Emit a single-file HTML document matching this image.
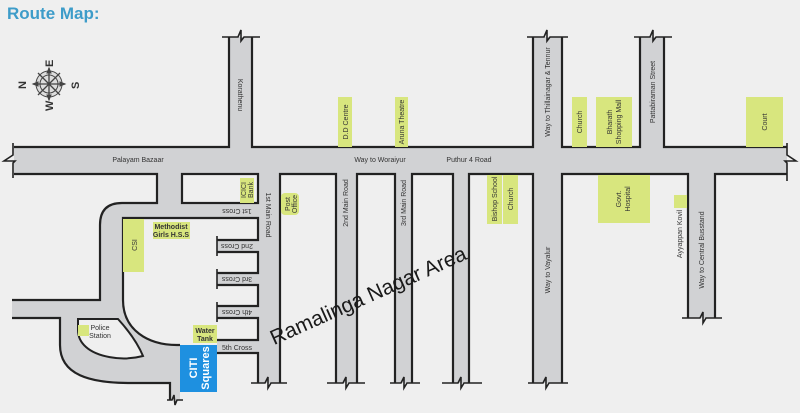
<!DOCTYPE html>
<html><head><meta charset="utf-8"><style>
html,body{margin:0;padding:0;background:#efefef;}
svg{display:block;font-family:"Liberation Sans",sans-serif;}
</style></head><body>
<svg width="800" height="413" viewBox="0 0 800 413" xmlns="http://www.w3.org/2000/svg">
<rect width="800" height="413" fill="#efefef"/>
<text x="7" y="19" font-size="17" font-weight="bold" fill="#3d9cc9">Route Map:</text>

<g transform="translate(49,84)" stroke="#444" fill="none" stroke-width="1">
<circle r="13" fill="#ddd"/><circle r="9"/>
<path d="M0,-16 L0,16 M-16,0 L16,0 M-11,-11 L11,11 M-11,11 L11,-11" stroke-width="1.3"/>
<path d="M0,-16 l-2,5 h4z M0,16 l-2,-5 h4z M-16,0 l5,-2 v4z M16,0 l-5,-2 v4z" fill="#444"/>
</g>
<g font-size="11" font-weight="bold" fill="#333">
<text x="18" y="89" transform="rotate(-90 22 85)">N</text>
<text x="45" y="67" transform="rotate(-90 49 63)">E</text>
<text x="71" y="89" transform="rotate(-90 75 85)">S</text>
<text x="45" y="111" transform="rotate(-90 49 107)">W</text>
</g>

<g fill="#d1d2d4">
<rect x="14" y="147" width="773" height="27"/>
<rect x="229" y="37" width="23" height="110"/>
<rect x="533" y="37" width="29" height="110"/>
<rect x="640" y="37" width="24" height="110"/>
<rect x="258" y="174" width="22" height="209"/>
<rect x="336" y="174" width="21" height="209"/>
<rect x="395" y="174" width="17" height="209"/>
<rect x="453" y="174" width="16" height="209"/>
<rect x="533" y="174" width="29" height="209"/>
<rect x="688" y="174" width="27" height="144"/>
<rect x="217" y="240" width="41" height="12"/>
<rect x="217" y="273" width="41" height="12"/>
<rect x="217" y="306" width="41" height="12"/>
<rect x="217" y="340" width="41" height="13"/>
<path d="M12,300 L100,300 L100,225 Q100,203 122,203 L157,203 L157,174 L182,174 L182,203 L258,203 L258,218 L123,218 L123,300 C123,330 148,345 177,345 L180,345 L180,400 L170,400 L170,383 L130,383 C90,383 60,375 60,345 L60,318 L12,318 Z"/>
</g>
<path d="M78,319 L118,319 C128,330 138,344 143,356 C120,362 96,356 86,347 Q78,340 78,330 Z" fill="#efefef" stroke="#222" stroke-width="2"/>

<g fill="none" stroke="#222" stroke-width="2.2">
<path d="M14,147 L229,147 L229,37 M252,37 L252,147 L533,147 L533,37 M562,37 L562,147 L640,147 L640,37 M664,37 L664,147 L787,147"/>
<path d="M14,174 L157,174 L157,203 L122,203 Q100,203 100,225 L100,300 L12,300"/>
<rect x="182" y="174" width="76" height="29"/>
<path d="M280,383 L280,174 L336,174 L336,383 M357,383 L357,174 L395,174 L395,383 M412,383 L412,174 L453,174 L453,383 M469,383 L469,174 L533,174 L533,383 M562,383 L562,174 L688,174 L688,318 M715,318 L715,174 L787,174"/>
<path d="M217,240 L258,240 L258,218 L123,218 L123,300 C123,330 148,345 177,345 L180,345"/>
<path d="M217,252 L258,252 L258,273 L217,273 M217,285 L258,285 L258,306 L217,306 M217,318 L258,318 L258,340 L217,340 M217,353 L258,353 L258,383"/>
<path d="M12,318 L60,318 L60,345 C60,375 90,383 130,383 L170,383 L170,400"/>
</g>
<g fill="none" stroke="#222" stroke-width="1.6">
<path d="M222,37 L238,37 l3,-7 l0,11 l3,-4 L260,37"/>
<path d="M527,37 L544,37 l3,-7 l0,11 l3,-4 L568,37"/>
<path d="M634,37 L650,37 l3,-7 l0,11 l3,-4 L672,37"/>
<path d="M13,143 L13,155 l-9,6 l11,0 l-2,2 L13,178"/>
<path d="M787,143 L787,155 l9,6 l-11,0 l2,2 L787,181"/>
<path d="M251,383 L265,383 l3,-6 l0,11 l3,-5 L287,383"/>
<path d="M327,383 L343,383 l3,-6 l0,11 l3,-5 L365,383"/>
<path d="M390,383 L401,383 l3,-6 l0,11 l3,-5 L420,383"/>
<path d="M442,383 L458,383 l3,-6 l0,11 l3,-5 L482,383"/>
<path d="M528,383 L543,383 l3,-6 l0,11 l3,-5 L568,383"/>
<path d="M682,318 L700,318 l3,-6 l0,11 l3,-5 L722,318"/>
<path d="M167,400 L172,400 l2,-5 l1,10 l2,-5 L183,400"/>
<path d="M217,236 L217,256 M217,269 L217,289 M217,302 L217,322"/>
</g>

<g fill="#d8e67e">
<rect x="338" y="97" width="14" height="50"/>
<rect x="395" y="97" width="13" height="50"/>
<rect x="572" y="97" width="15" height="50"/>
<rect x="596" y="97" width="36" height="50"/>
<rect x="746" y="97" width="37" height="50"/>
<rect x="240" y="178" width="14" height="25"/>
<rect x="281" y="193" width="18" height="22" rx="4"/>
<rect x="487" y="175" width="15" height="49"/>
<rect x="503" y="175" width="15" height="49"/>
<rect x="598" y="175" width="52" height="48"/>
<rect x="674" y="195" width="13" height="13"/>
<rect x="123" y="219" width="21" height="53"/>
<rect x="153" y="222" width="37" height="17"/>
<rect x="78" y="325" width="11" height="11"/>
<rect x="193" y="325" width="24" height="18"/>
</g>
<rect x="180" y="345" width="37" height="47" fill="#1e90e0"/>

<g font-size="7" fill="#333">
<text x="138" y="162" text-anchor="middle">Palayam Bazaar</text>
<text x="380" y="162" text-anchor="middle">Way to Woraiyur</text>
<text x="469" y="162" text-anchor="middle">Puthur 4 Road</text>
<text transform="translate(238,95) rotate(90)" text-anchor="middle">Korathenu</text>
<text transform="translate(348,122) rotate(-90)" text-anchor="middle">D.D Centre</text>
<text transform="translate(404,122) rotate(-90)" text-anchor="middle">Aruna Theatre</text>
<text transform="translate(550,92) rotate(-90)" text-anchor="middle">Way to Thillainagar &amp; Tennur</text>
<text transform="translate(582,122) rotate(-90)" text-anchor="middle">Church</text>
<text transform="translate(612,122) rotate(-90)" text-anchor="middle">Bharath</text>
<text transform="translate(621,122) rotate(-90)" text-anchor="middle">Shopping Mall</text>
<text transform="translate(655,92) rotate(-90)" text-anchor="middle">Pattabiraman Street</text>
<text transform="translate(767,122) rotate(-90)" text-anchor="middle">Court</text>
<text transform="translate(246,190) rotate(-90)" text-anchor="middle">ICICI</text>
<text transform="translate(253,190) rotate(-90)" text-anchor="middle">Bank</text>
<text transform="translate(266,215) rotate(90)" text-anchor="middle">1st Main Road</text>
<text transform="translate(290,204) rotate(-90)" text-anchor="middle">Post</text>
<text transform="translate(297,204) rotate(-90)" text-anchor="middle">Office</text>
<text transform="translate(348,203) rotate(-90)" text-anchor="middle">2nd Main Road</text>
<text transform="translate(406,203) rotate(-90)" text-anchor="middle">3rd Main Road</text>
<text transform="translate(497,199) rotate(-90)" text-anchor="middle">Bishop School</text>
<text transform="translate(513,199) rotate(-90)" text-anchor="middle">Church</text>
<text transform="translate(550,270) rotate(-90)" text-anchor="middle">Way to Vayalur</text>
<text transform="translate(621,199) rotate(-90)" text-anchor="middle">Govt.</text>
<text transform="translate(630,199) rotate(-90)" text-anchor="middle">Hospital</text>
<text transform="translate(682,234) rotate(-90)" text-anchor="middle">Ayyappan Kovil</text>
<text transform="translate(704,250) rotate(-90)" text-anchor="middle">Way to Central Busstand</text>
<text transform="translate(137,245) rotate(-90)" text-anchor="middle">CSI</text>
<text transform="translate(237,209) rotate(180)" text-anchor="middle">1st Cross</text>
<text transform="translate(237,244) rotate(180)" text-anchor="middle">2nd Cross</text>
<text transform="translate(237,277) rotate(180)" text-anchor="middle">3rd Cross</text>
<text transform="translate(237,310) rotate(180)" text-anchor="middle">4th Cross</text>
<text x="237" y="350" text-anchor="middle">5th Cross</text>
</g>
<g font-size="7" font-weight="bold" fill="#333" text-anchor="middle">
<text x="171" y="229">Methodist</text>
<text x="171" y="237">Girls H.S.S</text>
<text x="205" y="333">Water</text>
<text x="205" y="341">Tank</text>
</g>
<g font-size="7" fill="#333" text-anchor="middle">
<text x="100" y="330">Police</text>
<text x="100" y="338">Station</text>
</g>
<g font-size="11" font-weight="bold" fill="#fff" text-anchor="middle">
<text transform="translate(197,368) rotate(-90)">CITI</text>
<text transform="translate(209,368) rotate(-90)">Squares</text>
</g>
<text transform="translate(371,302) rotate(-24)" font-size="21" fill="#1a1a1a" text-anchor="middle">Ramalinga Nagar Area</text>
</svg>
</body></html>
